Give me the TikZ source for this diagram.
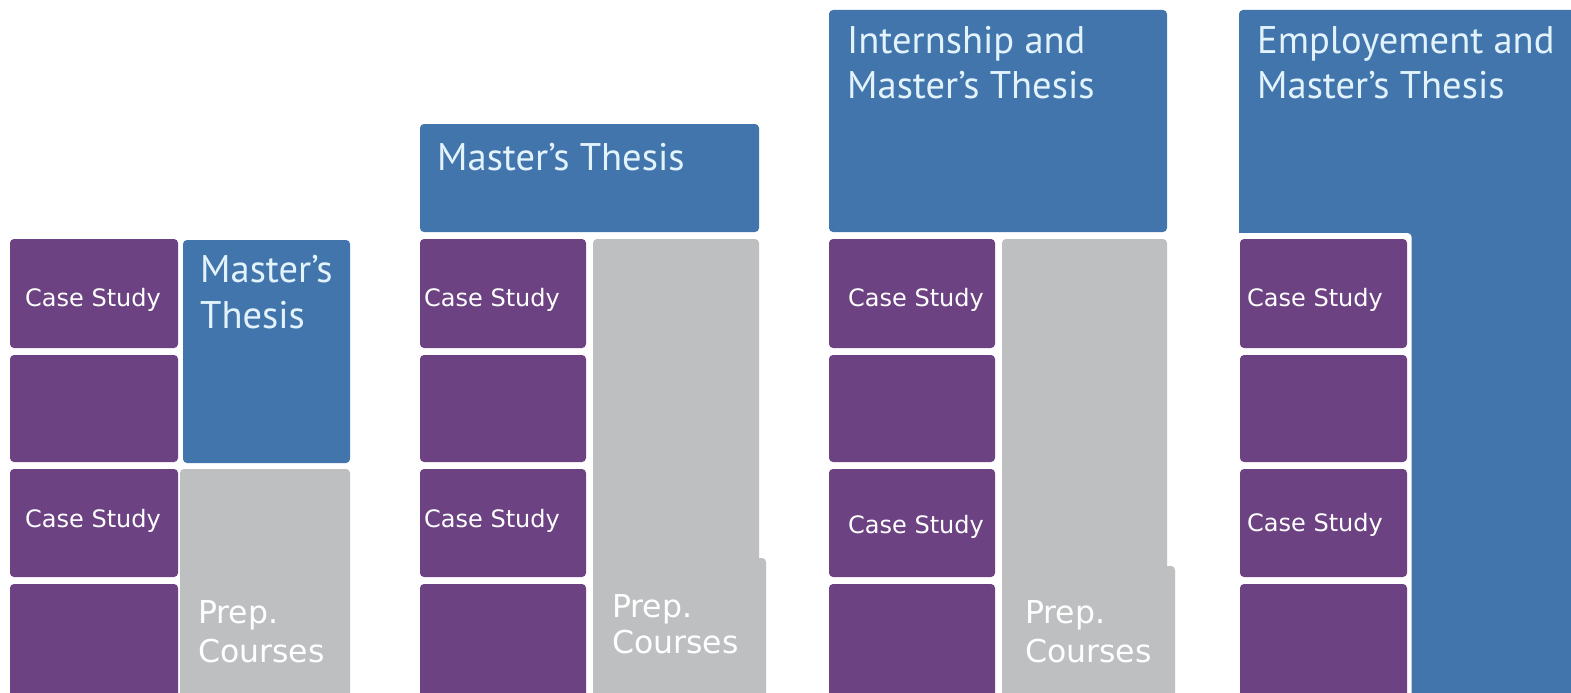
\documentclass[tikz,border=0pt]{standalone}
\usepackage{fontspec}
\setmainfont{DejaVu Sans}
\newfontfamily\titlefont{PT Sans}
\definecolor{purp}{HTML}{6C4282}
\definecolor{bluebox}{HTML}{4375AD}
\definecolor{graybox}{HTML}{BDBFC1}
\definecolor{titlecol}{HTML}{E2F3FB}
\tikzset{
  box/.style={rectangle, rounded corners=4pt, inner sep=0pt, outer sep=0pt},
  purplebox/.style={box, fill=purp, minimum width=166pt},
  bluerect/.style={box, fill=bluebox},
  grayrect/.style={box, fill=graybox},
  whiterect/.style={box, fill=white},
  casetext/.style={text=white, font=\fontsize{24}{28}\selectfont, inner sep=0pt, anchor=base west},
  preptext/.style={text=white, font=\fontsize{31.5}{36}\selectfont, inner sep=0pt, anchor=base west},
  titletext/.style={text=titlecol, font=\titlefont\fontsize{38.5}{46}\selectfont, inner sep=0pt, anchor=base west},
}
\begin{document}
\begin{tikzpicture}[x=1pt,y=-1pt]
\useasboundingbox (0,0) rectangle (1571,693);
\fill[white] (0,0) rectangle (1571,693);
\clip (0,0) rectangle (1571,693);
% ---------- column 1 ----------
\node[purplebox, minimum width=168pt, minimum height=109pt] (c1a) at (94,293.5) {};
\node[purplebox, minimum width=168pt, minimum height=107pt] (c1b) at (94,408.5) {};
\node[purplebox, minimum width=168pt, minimum height=108pt] (c1c) at (94,523) {};
\node[purplebox, minimum width=168pt, minimum height=119pt] (c1d) at (94,643.5) {};
\node[bluerect, minimum width=167pt, minimum height=223pt] (c1t) at (266.5,351.5) {};
\node[grayrect, minimum width=170pt, minimum height=234pt] (c1p) at (265,586) {};
\node[titletext] (c1tl1) at (200,282) {Master’s};
\node[titletext] (c1tl2) at (200,328) {Thesis};
\node[casetext] (c1cs1) at (25,306) {Case Study};
\node[casetext] (c1cs2) at (25,527) {Case Study};
\node[preptext] (c1p1) at (198,623) {Prep.};
\node[preptext] (c1p2) at (198,662) {Courses};
% ---------- column 2 ----------
\node[bluerect, minimum width=339pt, minimum height=108pt] (c2t) at (589.5,178) {};
\node[purplebox, minimum height=109pt] (c2a) at (503,293.5) {};
\node[purplebox, minimum height=107pt] (c2b) at (503,408.5) {};
\node[purplebox, minimum height=108pt] (c2c) at (503,523) {};
\node[purplebox, minimum height=119pt] (c2d) at (503,643.5) {};
\node[grayrect, minimum width=166pt, minimum height=464pt] (c2p) at (676,471) {};
\node[grayrect, minimum width=173pt, minimum height=145pt] (c2q) at (679.5,630.5) {};
\node[titletext] (c2tl) at (437,170) {Master’s Thesis};
\node[casetext] (c2cs1) at (424,306) {Case Study};
\node[casetext] (c2cs2) at (424,527) {Case Study};
\node[preptext] (c2p1) at (612,617) {Prep.};
\node[preptext] (c2p2) at (612,653) {Courses};
% ---------- column 3 ----------
\node[bluerect, minimum width=338pt, minimum height=222pt] (c3t) at (998,121) {};
\node[purplebox, minimum height=109pt] (c3a) at (912,293.5) {};
\node[purplebox, minimum height=107pt] (c3b) at (912,408.5) {};
\node[purplebox, minimum height=108pt] (c3c) at (912,523) {};
\node[purplebox, minimum height=119pt] (c3d) at (912,643.5) {};
\node[grayrect, minimum width=165pt, minimum height=464pt] (c3p) at (1084.5,471) {};
\node[grayrect, minimum width=173pt, minimum height=137pt] (c3q) at (1088.5,634.5) {};
\node[titletext] (c3tl1) at (847,53) {Internship and};
\node[titletext] (c3tl2) at (847,98) {Master’s Thesis};
\node[casetext] (c3cs1) at (848,306) {Case Study};
\node[casetext] (c3cs2) at (848,533) {Case Study};
\node[preptext] (c3p1) at (1025,623) {Prep.};
\node[preptext] (c3p2) at (1025,662) {Courses};
% ---------- column 4 ----------
\node[bluerect, minimum width=341pt, minimum height=693pt] (c4t) at (1409.5,356.5) {};
\node[whiterect, minimum width=181pt, minimum height=470pt] (c4w) at (1321,468) {};
\node[purplebox, minimum width=167pt, minimum height=109pt] (c4a) at (1323.5,293.5) {};
\node[purplebox, minimum width=167pt, minimum height=107pt] (c4b) at (1323.5,408.5) {};
\node[purplebox, minimum width=167pt, minimum height=108pt] (c4c) at (1323.5,523) {};
\node[purplebox, minimum width=167pt, minimum height=119pt] (c4d) at (1323.5,643.5) {};
\node[titletext] (c4tl1) at (1257,53) {Employement and};
\node[titletext] (c4tl2) at (1257,98) {Master’s Thesis};
\node[casetext] (c4cs1) at (1247,306) {Case Study};
\node[casetext] (c4cs2) at (1247,531) {Case Study};
\end{tikzpicture}
\end{document}
